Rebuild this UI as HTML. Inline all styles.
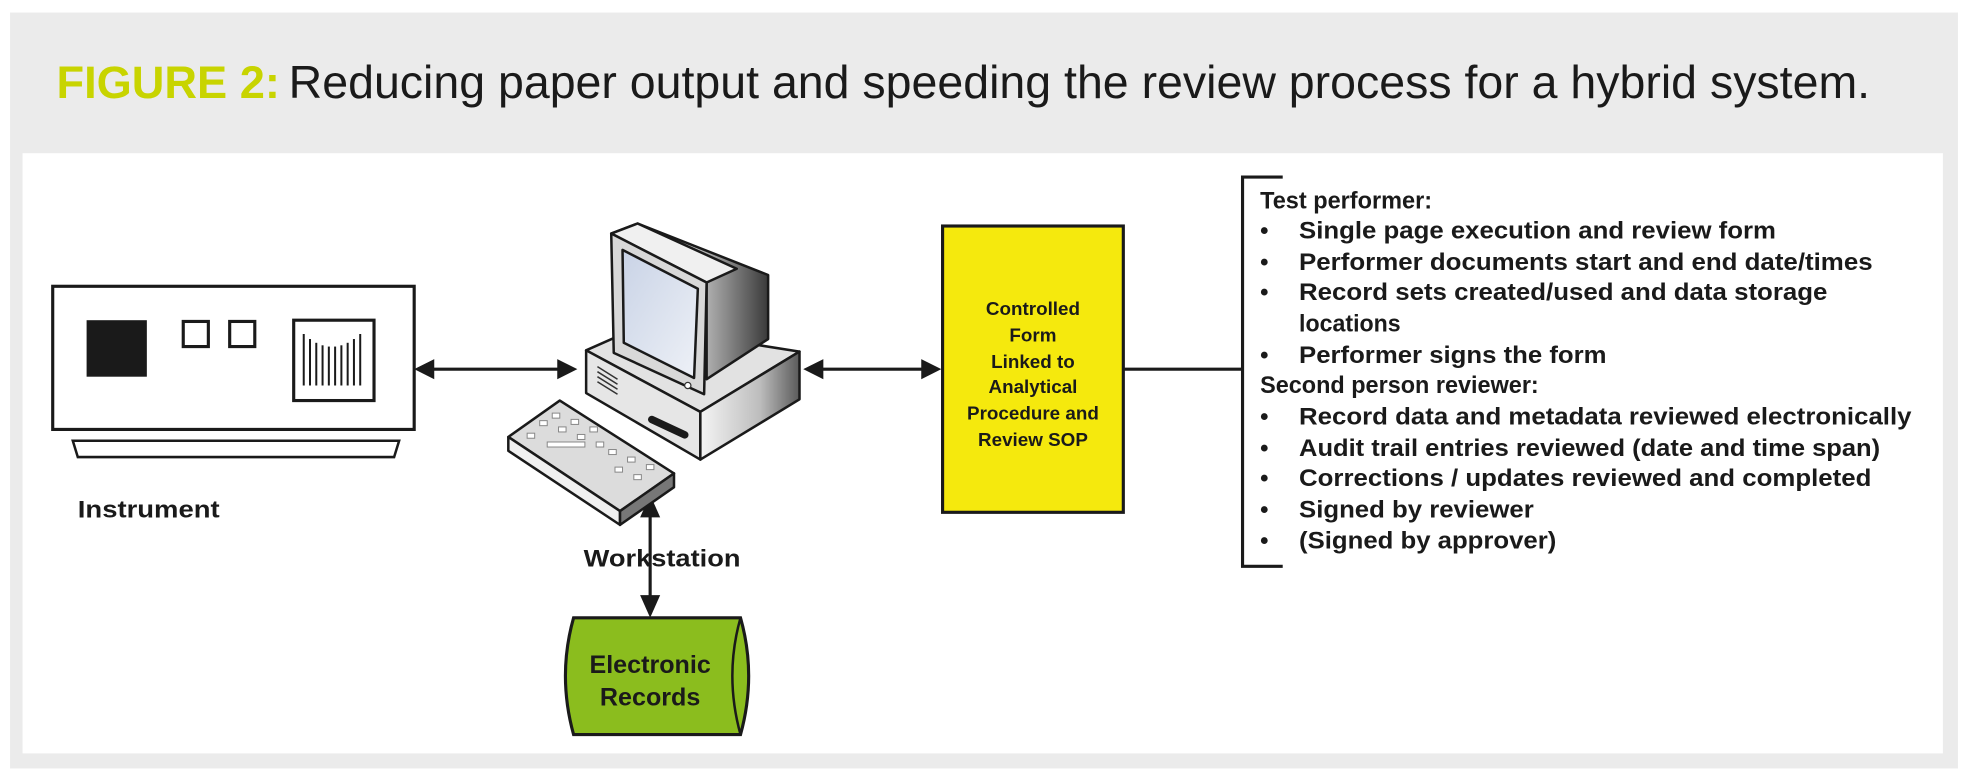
<!DOCTYPE html>
<html><head><meta charset="utf-8"><style>
html,body{margin:0;padding:0;background:#fff;}
svg{display:block;}
text{font-family:"Liberation Sans",sans-serif;font-weight:bold;fill:#1a1a1a;}
</style></head><body>
<svg width="1968" height="776" viewBox="0 0 1568 618" preserveAspectRatio="none" xmlns="http://www.w3.org/2000/svg">
<defs>
<linearGradient id="g1" x1="0" y1="0" x2="1" y2="0"><stop offset="0" stop-color="#f4f4f4"/><stop offset="0.6" stop-color="#bdbdbd"/><stop offset="1" stop-color="#5a5a5a"/></linearGradient>
<linearGradient id="g2" x1="0" y1="0" x2="1" y2="0"><stop offset="0" stop-color="#2a2a2a"/><stop offset="0.5" stop-color="#d0d0d0"/><stop offset="1" stop-color="#3a3a3a"/></linearGradient>
<linearGradient id="scr" x1="0" y1="0" x2="1" y2="1"><stop offset="0" stop-color="#c9d3e6"/><stop offset="1" stop-color="#eef1f7"/></linearGradient>
</defs>
<rect x="0" y="0" width="1568" height="618" fill="#fff"/>
<rect x="8" y="10" width="1552" height="602" fill="#ebebeb"/>
<rect x="18" y="122" width="1530" height="478" fill="#fff"/>
<text x="45" y="78" style="font-size:36px;font-weight:bold;fill:#c8d400">FIGURE 2:</text>
<text x="230" y="78" textLength="1260" lengthAdjust="spacingAndGlyphs" style="font-size:37px;font-weight:normal">Reducing paper output and speeding the review process for a hybrid system.</text>

<!-- Instrument -->
<rect x="42" y="228" width="288" height="114" fill="#fff" stroke="#1a1a1a" stroke-width="2.5"/>
<polygon points="58,351 318,351 314,364 62,364" fill="#fff" stroke="#1a1a1a" stroke-width="2"/>
<rect x="69" y="255" width="48" height="45" fill="#1a1a1a"/>
<rect x="146" y="256" width="20" height="20" fill="#fff" stroke="#1a1a1a" stroke-width="2.5"/>
<rect x="183" y="256" width="20" height="20" fill="#fff" stroke="#1a1a1a" stroke-width="2.5"/>
<rect x="234" y="255" width="64" height="64" fill="#fff" stroke="#1a1a1a" stroke-width="2.5"/>
<g stroke="#1a1a1a" stroke-width="1.6">
<line x1="242" y1="266" x2="242" y2="307"/><line x1="247" y1="270" x2="247" y2="307"/><line x1="252" y1="273" x2="252" y2="307"/><line x1="257" y1="275" x2="257" y2="307"/><line x1="262" y1="276" x2="262" y2="307"/><line x1="267" y1="276" x2="267" y2="307"/><line x1="272" y1="275" x2="272" y2="307"/><line x1="277" y1="273" x2="277" y2="307"/><line x1="282" y1="270" x2="282" y2="307"/><line x1="287" y1="266" x2="287" y2="307"/>
</g>
<text x="62" y="412" textLength="113" lengthAdjust="spacingAndGlyphs" style="font-size:19px">Instrument</text>

<!-- arrows -->
<g stroke="#1a1a1a" stroke-width="2.5"><line x1="340" y1="294" x2="450" y2="294"/><line x1="650" y1="294" x2="740" y2="294"/><line x1="896" y1="294" x2="990" y2="294"/><line x1="518" y1="405" x2="518" y2="480"/></g>
<g fill="#1a1a1a">
<polygon points="330,294 346,286 346,302"/><polygon points="460,294 444,286 444,302"/>
<polygon points="640,294 656,286 656,302"/><polygon points="750,294 734,286 734,302"/>
<polygon points="518,394 510,412 526,412"/><polygon points="518,492 510,474 526,474"/>
</g>

<!-- Computer -->
<g stroke="#1a1a1a" stroke-width="2" stroke-linejoin="round">
<polygon points="467,279 510,260 637,280 558,328" fill="#e2e2e2"/>
<polygon points="467,279 558,328 558,366 467,313" fill="#e6e6e6"/>
<polygon points="558,328 637,280 637,318 558,366" fill="url(#g1)"/>
<polygon points="508,178 612,219 612,270 563,302 563,225 487,186" fill="url(#g2)"/>
<polygon points="487,186 508,178 587,214 563,225" fill="#f0f0f0"/>
<polygon points="487,186 563,225 561,314 489,281" fill="#d8d8d8"/>
<polygon points="496,199 556,230 553,301 497,273" fill="url(#scr)"/>
<polygon points="405,348 446,319 537,377 494,407" fill="#dcdcdc"/>
<polygon points="405,348 494,407 494,418 405,359" fill="#f0f0f0"/>
<polygon points="494,407 537,377 537,388 494,418" fill="#777"/>
</g>
<g fill="#fff" stroke="#888" stroke-width="0.8">
<rect x="430" y="335" width="6" height="4"/><rect x="440" y="329" width="6" height="4"/><rect x="445" y="340" width="6" height="4"/><rect x="455" y="334" width="6" height="4"/><rect x="460" y="346" width="6" height="4"/><rect x="470" y="340" width="6" height="4"/><rect x="475" y="352" width="6" height="4"/><rect x="485" y="358" width="6" height="4"/><rect x="500" y="364" width="6" height="4"/><rect x="490" y="372" width="6" height="4"/><rect x="505" y="378" width="6" height="4"/><rect x="515" y="370" width="6" height="4"/><rect x="420" y="345" width="6" height="4"/><rect x="436" y="352" width="30" height="4"/>
</g>
<g stroke="#333" stroke-width="1.2"><line x1="476" y1="292" x2="492" y2="302"/><line x1="476" y1="296" x2="492" y2="306"/><line x1="476" y1="300" x2="492" y2="310"/><line x1="476" y1="304" x2="492" y2="314"/></g>
<rect x="515" y="337" width="35" height="6" rx="3" fill="#1a1a1a" transform="rotate(25 532 340)"/>
<circle cx="548" cy="307" r="2.5" fill="#fff" stroke="#333"/>
<text x="465" y="451" textLength="125" lengthAdjust="spacingAndGlyphs" style="font-size:19px">Workstation</text>

<!-- cylinder -->
<path d="M457,492 L590,492 Q603,538 590,585 L457,585 Q444,538 457,492 Z" fill="#8bbd1e" stroke="#1a1a1a" stroke-width="2.5"/>
<path d="M590,492 Q577,538 590,585" fill="none" stroke="#1a1a1a" stroke-width="2"/>
<text x="518" y="536" text-anchor="middle" style="font-size:20px">Electronic</text>
<text x="518" y="562" text-anchor="middle" style="font-size:20px">Records</text>

<!-- yellow box -->
<rect x="751" y="180" width="144" height="228" fill="#f5e90d" stroke="#1a1a1a" stroke-width="2.5"/>
<g style="font-size:15px" text-anchor="middle">
<text x="823" y="251">Controlled</text><text x="823" y="272">Form</text><text x="823" y="293">Linked to</text><text x="823" y="313">Analytical</text><text x="823" y="334">Procedure and</text><text x="823" y="355">Review SOP</text>
</g>

<!-- bracket -->
<polyline points="1022,141 990,141 990,451 1022,451" fill="none" stroke="#1a1a1a" stroke-width="2.5"/>
<g style="font-size:19px" lengthAdjust="spacingAndGlyphs">
<text x="1004" y="166" textLength="137" lengthAdjust="spacingAndGlyphs">Test performer:</text>
<text x="1004" y="190">•</text><text x="1035" y="190" textLength="380" lengthAdjust="spacingAndGlyphs">Single page execution and review form</text>
<text x="1004" y="215">•</text><text x="1035" y="215" textLength="457" lengthAdjust="spacingAndGlyphs">Performer documents start and end date/times</text>
<text x="1004" y="239">•</text><text x="1035" y="239" textLength="421" lengthAdjust="spacingAndGlyphs">Record sets created/used and data storage</text>
<text x="1035" y="264" textLength="81" lengthAdjust="spacingAndGlyphs">locations</text>
<text x="1004" y="289">•</text><text x="1035" y="289" textLength="245" lengthAdjust="spacingAndGlyphs">Performer signs the form</text>
<text x="1004" y="313" textLength="222" lengthAdjust="spacingAndGlyphs">Second person reviewer:</text>
<text x="1004" y="338">•</text><text x="1035" y="338" textLength="488" lengthAdjust="spacingAndGlyphs">Record data and metadata reviewed electronically</text>
<text x="1004" y="363">•</text><text x="1035" y="363" textLength="463" lengthAdjust="spacingAndGlyphs">Audit trail entries reviewed (date and time span)</text>
<text x="1004" y="387">•</text><text x="1035" y="387" textLength="456" lengthAdjust="spacingAndGlyphs">Corrections / updates reviewed and completed</text>
<text x="1004" y="412">•</text><text x="1035" y="412" textLength="187" lengthAdjust="spacingAndGlyphs">Signed by reviewer</text>
<text x="1004" y="437">•</text><text x="1035" y="437" textLength="205" lengthAdjust="spacingAndGlyphs">(Signed by approver)</text>
</g>
</svg>
</body></html>
